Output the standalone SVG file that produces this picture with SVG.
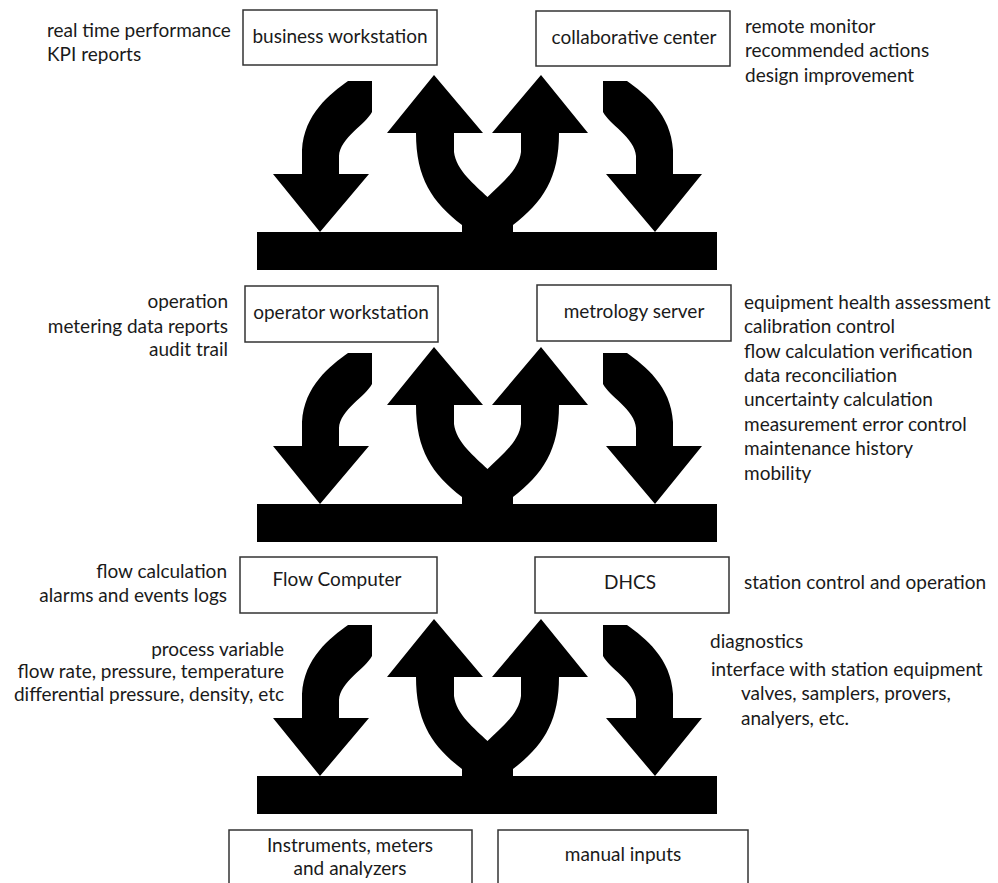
<svg xmlns="http://www.w3.org/2000/svg" width="998" height="883" viewBox="0 0 998 883">
<style>
  .bg { fill: #ffffff; }
  .box { fill: #ffffff; stroke: #333333; stroke-width: 1.5; }
  .t { font-family: Lato, "Open Sans", sans-serif; font-size: 19px; fill: #1a1a1a; }
  .c { text-anchor: middle; }
  .r { text-anchor: end; }
  .shape { fill: #000000; }
</style>
<defs>
  <g id="flow">
    <rect class="shape" x="257" y="232" width="460" height="38"/>
    <path class="shape" d="M 348 81 L 372 81 L 372 112 C 366 124, 340 138, 339 156 L 339 174 L 369 174 L 320 232 L 273 174 L 302 174 L 302 150 C 304 114, 330 94, 348 81 Z"/>
    <path class="shape" d="M 627 81 L 603 81 L 603 112 C 609 124, 635 138, 636 156 L 636 174 L 606 174 L 655 232 L 702 174 L 673 174 L 673 150 C 671 114, 645 94, 627 81 Z"/>
    <path class="shape" d="M 416 133 L 387 133 L 434 75 L 483 133 L 454 133 L 454 152 C 456 170, 475 185, 487.5 197 C 500 185, 519 170, 521 152 L 521 133 L 492 133 L 541 75 L 588 133 L 559 133 C 559 178, 543 202, 513 225 L 513 234 L 462 234 L 462 225 C 432 202, 416 178, 416 133 Z"/>
  </g>
</defs>
<rect class="bg" x="0" y="0" width="998" height="883"/>

<g id="connectors">
  <use href="#flow"/>
  <use href="#flow" transform="translate(0,272)"/>
  <use href="#flow" transform="translate(0,544)"/>
</g>

<g id="business-workstation">
  <rect class="box" x="243" y="10" width="194" height="55"/>
  <text class="t c" x="340" y="43">business workstation</text>
</g>
<g id="collaborative-center">
  <rect class="box" x="536" y="11" width="194" height="55"/>
  <text class="t c" x="634" y="44">collaborative center</text>
</g>
<g id="business-notes">
  <text class="t" x="47" y="37">real time performance</text>
  <text class="t" x="47" y="61">KPI reports</text>
</g>
<g id="collab-notes">
  <text class="t" x="745" y="33">remote monitor</text>
  <text class="t" x="745" y="57">recommended actions</text>
  <text class="t" x="745" y="82">design improvement</text>
</g>

<g id="operator-workstation">
  <rect class="box" x="245" y="286" width="193" height="56"/>
  <text class="t c" x="341" y="319">operator workstation</text>
</g>
<g id="metrology-server">
  <rect class="box" x="537" y="285" width="194" height="56"/>
  <text class="t c" x="634" y="318">metrology server</text>
</g>
<g id="operator-notes">
  <text class="t r" x="228" y="308">operation</text>
  <text class="t r" x="228" y="333">metering data reports</text>
  <text class="t r" x="228" y="356">audit trail</text>
</g>
<g id="metrology-notes">
  <text class="t" x="744" y="309">equipment health assessment</text>
  <text class="t" x="744" y="333">calibration control</text>
  <text class="t" x="744" y="358">flow calculation verification</text>
  <text class="t" x="744" y="382">data reconciliation</text>
  <text class="t" x="744" y="406">uncertainty calculation</text>
  <text class="t" x="744" y="431">measurement error control</text>
  <text class="t" x="744" y="455">maintenance history</text>
  <text class="t" x="744" y="480">mobility</text>
</g>

<g id="flow-computer">
  <rect class="box" x="240" y="557" width="197" height="56"/>
  <text class="t c" x="337" y="586">Flow Computer</text>
</g>
<g id="dhcs">
  <rect class="box" x="535" y="557" width="194" height="56"/>
  <text class="t c" x="630" y="589">DHCS</text>
</g>
<g id="flow-computer-notes">
  <text class="t r" x="227" y="578">flow calculation</text>
  <text class="t r" x="227" y="602">alarms and events logs</text>
  <text class="t r" x="284" y="656">process variable</text>
  <text class="t r" x="284" y="678">flow rate, pressure, temperature</text>
  <text class="t r" x="284" y="701">differential pressure, density, etc</text>
</g>
<g id="dhcs-notes">
  <text class="t" x="744" y="589">station control and operation</text>
  <text class="t" x="710" y="648">diagnostics</text>
  <text class="t" x="711" y="676">interface with station equipment</text>
  <text class="t" x="741" y="700">valves, samplers, provers,</text>
  <text class="t" x="741" y="725">analyers, etc.</text>
</g>

<g id="instruments">
  <rect class="box" x="229" y="830" width="243" height="60"/>
  <text class="t c" x="350" y="852">Instruments, meters</text>
  <text class="t c" x="350" y="875">and analyzers</text>
</g>
<g id="manual-inputs">
  <rect class="box" x="498" y="830" width="250" height="60"/>
  <text class="t c" x="623" y="861">manual inputs</text>
</g>
</svg>
